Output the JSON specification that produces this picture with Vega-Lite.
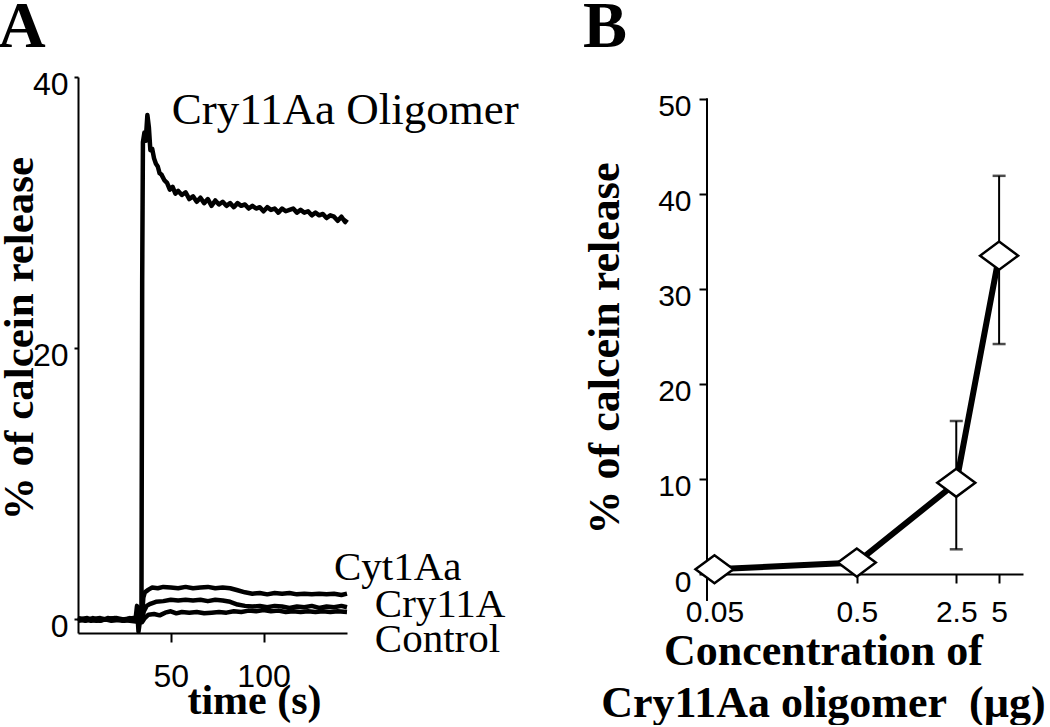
{
  "$schema": "https://vega.github.io/schema/vega-lite/v6.json",
  "padding": {"left": -2, "top": -6, "right": 0, "bottom": 0},
  "background": "white",
  "spacing": 63,
  "datasets": {
    "trace": [
      {"series":"Cry11Aa Oligomer","t":0,"value":0.1},{"series":"Cry11Aa Oligomer","t":4,"value":-0.1},{"series":"Cry11Aa Oligomer","t":8,"value":0.1},{"series":"Cry11Aa Oligomer","t":12,"value":-0.1},{"series":"Cry11Aa Oligomer","t":16,"value":0.1},{"series":"Cry11Aa Oligomer","t":20,"value":0},{"series":"Cry11Aa Oligomer","t":24,"value":-0.1},{"series":"Cry11Aa Oligomer","t":28,"value":0.1},{"series":"Cry11Aa Oligomer","t":31,"value":0},{"series":"Cry11Aa Oligomer","t":31.8,"value":1.0},{"series":"Cry11Aa Oligomer","t":32.6,"value":-0.9},{"series":"Cry11Aa Oligomer","t":33.6,"value":0.1},
      {"series":"Cry11Aa Oligomer","t":34.2,"value":0.3},{"series":"Cry11Aa Oligomer","t":34.6,"value":25},{"series":"Cry11Aa Oligomer","t":35,"value":35.2},{"series":"Cry11Aa Oligomer","t":35.8,"value":35.9},{"series":"Cry11Aa Oligomer","t":36.5,"value":35.3},{"series":"Cry11Aa Oligomer","t":37.4,"value":37.2},{"series":"Cry11Aa Oligomer","t":38.2,"value":36.3},{"series":"Cry11Aa Oligomer","t":39,"value":34.6},{"series":"Cry11Aa Oligomer","t":40,"value":34.7},{"series":"Cry11Aa Oligomer","t":41,"value":34.0},{"series":"Cry11Aa Oligomer","t":42,"value":33.6},{"series":"Cry11Aa Oligomer","t":43,"value":33.4},{"series":"Cry11Aa Oligomer","t":44,"value":32.9},{"series":"Cry11Aa Oligomer","t":45,"value":32.8},{"series":"Cry11Aa Oligomer","t":46.5,"value":32.4},{"series":"Cry11Aa Oligomer","t":48,"value":32.2},{"series":"Cry11Aa Oligomer","t":49.5,"value":31.7},{"series":"Cry11Aa Oligomer","t":51,"value":31.9},{"series":"Cry11Aa Oligomer","t":52.5,"value":31.4},{"series":"Cry11Aa Oligomer","t":54,"value":31.6},{"series":"Cry11Aa Oligomer","t":56,"value":31.3},{"series":"Cry11Aa Oligomer","t":58,"value":31.5},{"series":"Cry11Aa Oligomer","t":60,"value":31.0},{"series":"Cry11Aa Oligomer","t":62,"value":31.2},{"series":"Cry11Aa Oligomer","t":64,"value":30.8},{"series":"Cry11Aa Oligomer","t":66,"value":31.1},{"series":"Cry11Aa Oligomer","t":68,"value":30.7},{"series":"Cry11Aa Oligomer","t":70,"value":31.0},{"series":"Cry11Aa Oligomer","t":72,"value":30.5},{"series":"Cry11Aa Oligomer","t":74,"value":30.9},{"series":"Cry11Aa Oligomer","t":76,"value":30.6},{"series":"Cry11Aa Oligomer","t":78,"value":30.8},{"series":"Cry11Aa Oligomer","t":80,"value":30.5},{"series":"Cry11Aa Oligomer","t":82,"value":30.7},{"series":"Cry11Aa Oligomer","t":84,"value":30.4},{"series":"Cry11Aa Oligomer","t":86,"value":30.7},{"series":"Cry11Aa Oligomer","t":88,"value":30.5},{"series":"Cry11Aa Oligomer","t":90,"value":30.6},{"series":"Cry11Aa Oligomer","t":92,"value":30.3},{"series":"Cry11Aa Oligomer","t":94,"value":30.5},{"series":"Cry11Aa Oligomer","t":96,"value":30.3},{"series":"Cry11Aa Oligomer","t":98,"value":30.4},{"series":"Cry11Aa Oligomer","t":100,"value":30.1},{"series":"Cry11Aa Oligomer","t":102,"value":30.4},{"series":"Cry11Aa Oligomer","t":104,"value":30.2},{"series":"Cry11Aa Oligomer","t":106,"value":30.3},{"series":"Cry11Aa Oligomer","t":108,"value":30.0},{"series":"Cry11Aa Oligomer","t":110,"value":30.3},{"series":"Cry11Aa Oligomer","t":112,"value":30.1},{"series":"Cry11Aa Oligomer","t":114,"value":30.2},{"series":"Cry11Aa Oligomer","t":116,"value":30.3},{"series":"Cry11Aa Oligomer","t":118,"value":30.0},{"series":"Cry11Aa Oligomer","t":120,"value":30.2},{"series":"Cry11Aa Oligomer","t":122,"value":30.0},{"series":"Cry11Aa Oligomer","t":124,"value":30.1},{"series":"Cry11Aa Oligomer","t":126,"value":29.8},{"series":"Cry11Aa Oligomer","t":128,"value":30.0},{"series":"Cry11Aa Oligomer","t":130,"value":29.8},{"series":"Cry11Aa Oligomer","t":132,"value":29.9},{"series":"Cry11Aa Oligomer","t":134,"value":29.6},{"series":"Cry11Aa Oligomer","t":136,"value":29.8},{"series":"Cry11Aa Oligomer","t":138,"value":29.7},{"series":"Cry11Aa Oligomer","t":140,"value":29.4},{"series":"Cry11Aa Oligomer","t":142,"value":29.7},{"series":"Cry11Aa Oligomer","t":144,"value":29.3},{"series":"Cry11Aa Oligomer","t":145,"value":29.5},

      {"series":"Cyt1Aa","t":0,"value":0},{"series":"Cyt1Aa","t":5,"value":0.1},{"series":"Cyt1Aa","t":10,"value":-0.1},{"series":"Cyt1Aa","t":15,"value":0},{"series":"Cyt1Aa","t":20,"value":0.1},{"series":"Cyt1Aa","t":25,"value":-0.1},{"series":"Cyt1Aa","t":30,"value":0},{"series":"Cyt1Aa","t":34.5,"value":0.2},{"series":"Cyt1Aa","t":35.2,"value":1.6},{"series":"Cyt1Aa","t":36,"value":2.0},{"series":"Cyt1Aa","t":38,"value":2.2},{"series":"Cyt1Aa","t":40,"value":2.35},{"series":"Cyt1Aa","t":43,"value":2.3},{"series":"Cyt1Aa","t":46,"value":2.4},{"series":"Cyt1Aa","t":50,"value":2.35},{"series":"Cyt1Aa","t":54,"value":2.3},{"series":"Cyt1Aa","t":58,"value":2.4},{"series":"Cyt1Aa","t":62,"value":2.3},{"series":"Cyt1Aa","t":66,"value":2.35},{"series":"Cyt1Aa","t":70,"value":2.4},{"series":"Cyt1Aa","t":74,"value":2.3},{"series":"Cyt1Aa","t":78,"value":2.35},{"series":"Cyt1Aa","t":82,"value":2.3},{"series":"Cyt1Aa","t":86,"value":2.15},{"series":"Cyt1Aa","t":90,"value":2.0},{"series":"Cyt1Aa","t":94,"value":1.9},{"series":"Cyt1Aa","t":98,"value":1.95},{"series":"Cyt1Aa","t":102,"value":1.85},{"series":"Cyt1Aa","t":106,"value":1.95},{"series":"Cyt1Aa","t":110,"value":1.9},{"series":"Cyt1Aa","t":114,"value":1.95},{"series":"Cyt1Aa","t":118,"value":1.85},{"series":"Cyt1Aa","t":122,"value":1.9},{"series":"Cyt1Aa","t":126,"value":1.85},{"series":"Cyt1Aa","t":130,"value":1.9},{"series":"Cyt1Aa","t":134,"value":1.85},{"series":"Cyt1Aa","t":138,"value":1.9},{"series":"Cyt1Aa","t":142,"value":1.8},{"series":"Cyt1Aa","t":145,"value":1.9},

      {"series":"Cry11A","t":0,"value":-0.1},{"series":"Cry11A","t":6,"value":0},{"series":"Cry11A","t":12,"value":0.1},{"series":"Cry11A","t":18,"value":-0.1},{"series":"Cry11A","t":24,"value":0},{"series":"Cry11A","t":30,"value":0.1},{"series":"Cry11A","t":34.5,"value":0},{"series":"Cry11A","t":35.5,"value":0.6},{"series":"Cry11A","t":37,"value":1.0},{"series":"Cry11A","t":39,"value":1.15},{"series":"Cry11A","t":42,"value":1.3},{"series":"Cry11A","t":46,"value":1.35},{"series":"Cry11A","t":50,"value":1.45},{"series":"Cry11A","t":54,"value":1.4},{"series":"Cry11A","t":58,"value":1.45},{"series":"Cry11A","t":62,"value":1.4},{"series":"Cry11A","t":66,"value":1.45},{"series":"Cry11A","t":70,"value":1.35},{"series":"Cry11A","t":74,"value":1.45},{"series":"Cry11A","t":78,"value":1.4},{"series":"Cry11A","t":82,"value":1.3},{"series":"Cry11A","t":86,"value":1.1},{"series":"Cry11A","t":90,"value":1.0},{"series":"Cry11A","t":94,"value":0.95},{"series":"Cry11A","t":98,"value":1.0},{"series":"Cry11A","t":102,"value":0.9},{"series":"Cry11A","t":106,"value":1.0},{"series":"Cry11A","t":110,"value":0.95},{"series":"Cry11A","t":114,"value":0.85},{"series":"Cry11A","t":118,"value":0.95},{"series":"Cry11A","t":122,"value":0.9},{"series":"Cry11A","t":126,"value":1.0},{"series":"Cry11A","t":130,"value":0.85},{"series":"Cry11A","t":134,"value":0.95},{"series":"Cry11A","t":138,"value":0.9},{"series":"Cry11A","t":142,"value":1.0},{"series":"Cry11A","t":145,"value":0.9},

      {"series":"Control","t":0,"value":0.1},{"series":"Control","t":7,"value":-0.1},{"series":"Control","t":14,"value":0},{"series":"Control","t":21,"value":0.1},{"series":"Control","t":28,"value":-0.1},{"series":"Control","t":34.5,"value":-0.2},{"series":"Control","t":36,"value":0.1},{"series":"Control","t":38,"value":0.35},{"series":"Control","t":41,"value":0.4},{"series":"Control","t":44,"value":0.3},{"series":"Control","t":47,"value":0.5},{"series":"Control","t":50,"value":0.6},{"series":"Control","t":53,"value":0.45},{"series":"Control","t":56,"value":0.55},{"series":"Control","t":60,"value":0.5},{"series":"Control","t":64,"value":0.55},{"series":"Control","t":68,"value":0.45},{"series":"Control","t":72,"value":0.5},{"series":"Control","t":76,"value":0.55},{"series":"Control","t":80,"value":0.5},{"series":"Control","t":84,"value":0.6},{"series":"Control","t":88,"value":0.55},{"series":"Control","t":92,"value":0.65},{"series":"Control","t":96,"value":0.6},{"series":"Control","t":100,"value":0.7},{"series":"Control","t":104,"value":0.6},{"series":"Control","t":108,"value":0.65},{"series":"Control","t":112,"value":0.55},{"series":"Control","t":116,"value":0.6},{"series":"Control","t":120,"value":0.55},{"series":"Control","t":124,"value":0.6},{"series":"Control","t":128,"value":0.55},{"series":"Control","t":132,"value":0.6},{"series":"Control","t":136,"value":0.55},{"series":"Control","t":140,"value":0.6},{"series":"Control","t":145,"value":0.55}
    ],
    "labelsA": [
      {"label":"Cry11Aa Oligomer","t":50.5,"value":37.6},
      {"label":"Cyt1Aa","t":138,"value":3.8},
      {"label":"Cry11A","t":160,"value":1.1},
      {"label":"Control","t":160,"value":-1.5}
    ],
    "pointsB": [
      {"conc":0.05,"mean":0.5},
      {"conc":0.5,"mean":1.2},
      {"conc":2.5,"mean":9.6,"lo":2.6,"hi":16.1},
      {"conc":5,"mean":33.5,"lo":24.2,"hi":41.9}
    ]
  },
  "hconcat": [
    {
      "width": 269,
      "height": 556,
      "title": {"text":"A","anchor":"start","font":"Liberation Serif","fontSize":66,"fontWeight":"bold","baseline":"alphabetic","offset":-45,"color":"black"},
      "layer": [
        {
          "data": {"name":"trace"},
          "mark": {"type":"line","color":"black","strokeWidth":4.5,"strokeJoin":"round"},
          "encoding": {
            "x": {"field":"t","type":"quantitative","scale":{"domain":[0,145],"nice":false,"zero":false},
                  "axis":{"values":[50,100],"title":"time (s)","tickSize":9,"labelPadding":19,"labelFontSize":32,"titleX":176,"titleY":80,"titleBaseline":"alphabetic","titleFontSize":42}},
            "y": {"field":"value","type":"quantitative","scale":{"domain":[-1,40],"nice":false,"zero":false},
                  "axis":{"values":[0,20,40],"title":"% of calcein release","tickSize":4,"labelPadding":6,"labelOffset":7,"labelFontSize":32,"titleX":-46,"titleY":261,"titleBaseline":"alphabetic","titleFontSize":43}},
            "detail": {"field":"series"},
            "order": {"field":"t","type":"quantitative"}
          }
        },
        {
          "data": {"name":"labelsA"},
          "transform": [{"filter":"datum.label == 'Cry11Aa Oligomer'"}],
          "mark": {"type":"text","align":"left","baseline":"middle","font":"Liberation Serif","fontSize":45,"color":"black"},
          "encoding": {
            "x": {"field":"t","type":"quantitative"},
            "y": {"field":"value","type":"quantitative"},
            "text": {"field":"label"}
          }
        },
        {
          "data": {"name":"labelsA"},
          "transform": [{"filter":"datum.label != 'Cry11Aa Oligomer'"}],
          "mark": {"type":"text","align":"left","baseline":"middle","font":"Liberation Serif","fontSize":41,"color":"black"},
          "encoding": {
            "x": {"field":"t","type":"quantitative"},
            "y": {"field":"value","type":"quantitative"},
            "text": {"field":"label"}
          }
        }
      ]
    },
    {
      "width": 316,
      "height": 497,
      "title": {"text":"B","anchor":"start","font":"Liberation Serif","fontSize":66,"fontWeight":"bold","baseline":"alphabetic","offset":-36,"color":"black"},
      "data": {"name":"pointsB"},
      "encoding": {
        "x": {"field":"conc","type":"quantitative","scale":{"type":"log","domain":[0.0443,7.36],"nice":false},
              "axis":{"values":[0.05,0.5,2.5,5],"format":"~g","title":["Concentration of","Cry11Aa oligomer\u00a0 (µg)"],"tickSize":9,"labelPadding":14,"labelFontSize":30,"titleX":116,"titleY":90,"titleBaseline":"alphabetic","titleFontSize":44,"titleLineHeight":52}}
      },
      "layer": [
        {
          "mark": {"type":"rule","color":"black","strokeWidth":2},
          "encoding": {"x":{"datum":0.0443},"y":{"datum":-2.8},"y2":{"datum":50}}
        },
        {
          "mark": {"type":"line","color":"black","strokeWidth":6},
          "encoding": {
            "y": {"field":"mean","type":"quantitative","scale":{"domain":[0,52.3],"nice":false},
                  "axis":{"values":[0,10,20,30,40,50],"domain":false,"title":"% of calcein release","tickSize":8,"labelPadding":8,"labelOffset":8,"labelFontSize":30,"titleX":-89,"titleY":271,"titleBaseline":"alphabetic","titleFontSize":44}}
          }
        },
        {
          "transform": [{"filter":"datum.lo != null"}],
          "mark": {"type":"rule","color":"black","strokeWidth":2},
          "encoding": {"y":{"field":"lo","type":"quantitative"},"y2":{"field":"hi"}}
        },
        {
          "transform": [{"filter":"datum.lo != null"}],
          "mark": {"type":"tick","orient":"horizontal","color":"black","size":13,"thickness":2.5},
          "encoding": {"y":{"field":"hi","type":"quantitative"}}
        },
        {
          "transform": [{"filter":"datum.lo != null"}],
          "mark": {"type":"tick","orient":"horizontal","color":"black","size":13,"thickness":2.5},
          "encoding": {"y":{"field":"lo","type":"quantitative"}}
        },
        {
          "mark": {"type":"point","shape":"M -1 0 L 0 -0.74 L 1 0 L 0 0.74 Z","filled":true,"fill":"white","stroke":"black","strokeWidth":2.5,"size":1444,"opacity":1},
          "encoding": {"y":{"field":"mean","type":"quantitative"}}
        }
      ]
    }
  ],
  "config": {
    "view": {"stroke": null},
    "axis": {
      "grid": false,
      "domainColor": "black",
      "domainWidth": 2,
      "tickColor": "black",
      "tickWidth": 2,
      "labelColor": "black",
      "labelFont": "Liberation Sans",
      "titleColor": "black",
      "titleFont": "Liberation Serif",
      "titleFontWeight": "bold"
    }
  }
}
